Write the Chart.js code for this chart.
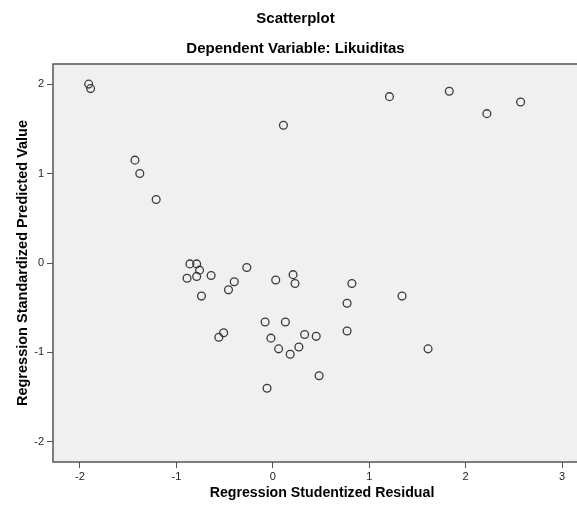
<!DOCTYPE html>
<html>
<head>
<meta charset="utf-8">
<script src="https://cdn.jsdelivr.net/npm/chart.js@4.4.1/dist/chart.umd.min.js"></script>
<style>
  html, body { margin: 0; padding: 0; background: #fff; overflow: hidden; }
  #wrap { width: 596px; height: 511px; }
</style>
</head>
<body>
<div id="wrap"><canvas id="scatter"></canvas></div>
<script>
// Regression Studentized Residual (x) / Regression Standardized Predicted Value (y)
const residual = [
  -1.91, -1.89, -1.43, -1.38, -1.21, 0.11, 1.21, 1.83, 2.22, 2.57,
  -0.86, -0.79, -0.76, -0.89, -0.79, -0.64, -0.74, -0.40, -0.46, -0.27,
  -0.51, -0.56, 0.03, 0.21, 0.23, -0.08, 0.13, -0.02, 0.06, 0.18,
  0.27, -0.06, 0.82, 1.34, 0.77, 0.33, 0.45, 0.77, 1.61, 0.48
];
const predicted = [
  2.00, 1.95, 1.15, 1.00, 0.71, 1.54, 1.86, 1.92, 1.67, 1.80,
  -0.01, -0.01, -0.08, -0.17, -0.15, -0.14, -0.37, -0.21, -0.30, -0.05,
  -0.78, -0.83, -0.19, -0.13, -0.23, -0.66, -0.66, -0.84, -0.96, -1.02,
  -0.94, -1.40, -0.23, -0.37, -0.45, -0.80, -0.82, -0.76, -0.96, -1.26
];
const xTicks = [-2, -1, 0, 1, 2, 3];
const yTicks = [-2, -1, 0, 1, 2];

const points = residual.map((x, i) => ({ x: x, y: predicted[i] }));

// grey plot background and frame
const frame = {
  id: 'frame',
  beforeDraw(chart) {
    const { ctx, chartArea: a } = chart;
    ctx.save();
    ctx.fillStyle = '#f0f0f0';
    ctx.fillRect(a.left, a.top, a.right - a.left, a.bottom - a.top);
    ctx.restore();
  },
  afterDraw(chart) {
    const { ctx, chartArea: a } = chart;
    ctx.save();
    ctx.strokeStyle = '#555';
    ctx.lineWidth = 1.5;
    ctx.strokeRect(a.left, a.top, a.right - a.left, a.bottom - a.top);
    ctx.restore();
  }
};

const fam = 'Liberation Sans, Arial, sans-serif';
const tickFont = { family: fam, size: 11 };

new Chart(document.getElementById('scatter'), {
  type: 'scatter',
  data: {
    datasets: [{
      data: points,
      pointRadius: 3.9,
      pointBorderWidth: 1.3,
      pointBorderColor: '#3a3a3a',
      pointBackgroundColor: 'rgba(0,0,0,0)'
    }]
  },
  options: {
    responsive: true,
    maintainAspectRatio: false,
    animation: false,
    events: [],
    layout: { autoPadding: false, padding: { left: 0, right: 5, top: 0, bottom: 0 } },
    plugins: {
      legend: { display: false },
      tooltip: { enabled: false },
      title: {
        display: true,
        text: 'Scatterplot',
        color: '#000',
        font: { family: fam, size: 15, weight: 'bold' },
        padding: { top: 10, bottom: 6 }
      },
      subtitle: {
        display: true,
        text: 'Dependent Variable: Likuiditas',
        color: '#000',
        font: { family: fam, size: 15, weight: 'bold' },
        padding: { top: 6, bottom: 6 }
      }
    },
    scales: {
      x: {
        type: 'linear',
        min: -2.28,
        max: 3.30,
        afterBuildTicks: s => { s.ticks = xTicks.map(v => ({ value: v })); },
        afterFit: s => { s.height = 49; },
        grid: { drawOnChartArea: false, drawTicks: true, tickLength: 6, color: '#555' },
        border: { display: false },
        ticks: { color: '#222', font: tickFont, padding: 2, maxRotation: 0, callback: v => String(v) },
        title: { display: true, text: 'Regression Studentized Residual', color: '#000', font: { family: fam, size: 14.2, weight: 'bold' }, padding: { top: 0, bottom: 9 } }
      },
      y: {
        type: 'linear',
        min: -2.225,
        max: 2.225,
        afterBuildTicks: s => { s.ticks = yTicks.map(v => ({ value: v })); },
        afterFit: s => { s.width = 53; },
        grid: { drawOnChartArea: false, drawTicks: true, tickLength: 6, color: '#555' },
        border: { display: false },
        ticks: { color: '#222', font: tickFont, padding: 3, callback: v => String(v) },
        title: { display: true, text: 'Regression Standardized Predicted Value', color: '#000', font: { family: fam, size: 14.5, weight: 'bold' }, padding: { top: 14, bottom: 0 } }
      }
    }
  },
  plugins: [frame]
});
</script>
</body>
</html>
